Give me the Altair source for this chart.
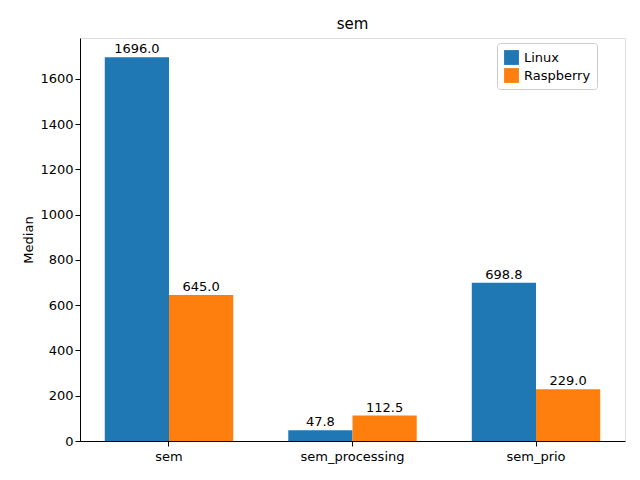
import altair as alt
import pandas as pd

categories = ["sem", "sem_processing", "sem_prio"]
linux = [1696.0, 47.8, 698.8]
raspberry = [645.0, 112.5, 229.0]
series = ["Linux", "Raspberry"]

rows = []
for c, l, r in zip(categories, linux, raspberry):
    rows.append({"cat": c, "system": "Linux", "value": l})
    rows.append({"cat": c, "system": "Raspberry", "value": r})
df = pd.DataFrame(rows)

x = alt.X("cat:N", sort=categories,
          scale=alt.Scale(paddingInner=0.3, paddingOuter=0.135),
          axis=alt.Axis(title=None, labelAngle=0, labelFontSize=13, labelColor="black",
                        tickColor="black", domainColor="black", labelPadding=4))
xo = alt.XOffset("system:N", sort=series, scale=alt.Scale(paddingInner=0, paddingOuter=0))
y = alt.Y("value:Q", scale=alt.Scale(domain=[0, 1780.8], nice=False),
          axis=alt.Axis(title="Median", grid=False, values=list(range(0, 1700, 200)),
                        format="d", labelFontSize=13, titleFontSize=13,
                        titleFontWeight="normal", labelColor="black", titleColor="black",
                        tickColor="black", domainColor="black"))
color = alt.Color("system:N", sort=series,
                  scale=alt.Scale(domain=series, range=["#1f77b4", "#ff7f0e"]),
                  legend=alt.Legend(title=None, orient="none", legendX=417, legendY=5,
                                    symbolType="square", symbolSize=220, labelFontSize=13,
                                    strokeColor="#cccccc", padding=6, fillColor="white",
                                    cornerRadius=3))

bars = alt.Chart(df).mark_bar().encode(x=x, xOffset=xo, y=y, color=color)
labels = alt.Chart(df).mark_text(dy=-8, fontSize=13, color="black").encode(
    x=x, xOffset=xo, y=y, text=alt.Text("value:Q", format=".1f"))

chart = (bars + labels).properties(
    width=545, height=403,
    title=alt.TitleParams("sem", fontSize=15, fontWeight="normal", offset=6),
    autosize=alt.AutoSizeParams(type="none"),
    padding={"left": 72, "top": 30, "right": 7, "bottom": 23},
).configure_view(stroke="black").configure(font="DejaVu Sans")

chart.save("out.html", embed_options={"renderer": "svg", "actions": False})
